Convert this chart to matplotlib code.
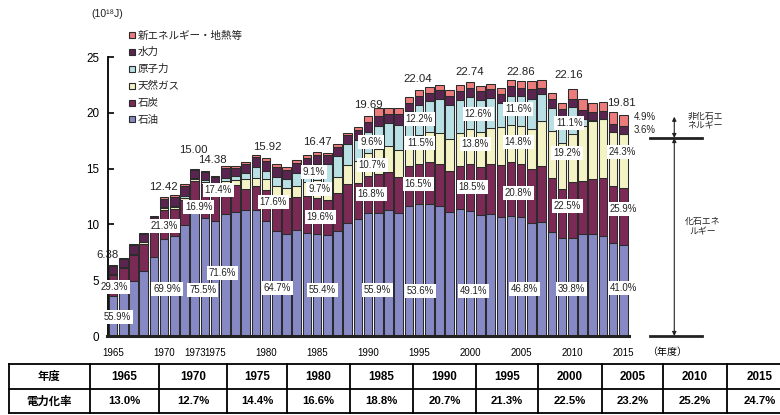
import matplotlib
matplotlib.use('Agg')
import matplotlib.pyplot as plt
from matplotlib.patches import Rectangle
from matplotlib.lines import Line2D
import numpy as np

plt.rcParams['font.family'] = ['Liberation Sans', 'Noto Sans CJK JP', 'DejaVu Sans']

# ---------------- data (10^18 J) ----------------
years = list(range(1965, 2016))
oil = [3.57, 4.10, 4.96, 5.82, 7.10, 8.68, 9.00, 9.95, 11.33, 10.60,
       10.30, 10.90, 11.10, 11.30, 11.30, 10.30, 9.44, 9.14, 9.50, 9.20,
       9.12, 9.05, 9.44, 10.10, 10.45, 11.01, 11.05, 11.30, 10.98, 11.65,
       11.81, 11.85, 11.65, 11.15, 11.40, 11.17, 10.80, 10.95, 10.65, 10.75,
       10.70, 10.15, 10.20, 9.31, 8.81, 8.82, 9.10, 9.10, 8.95, 8.36, 8.12]
coal = [1.87, 1.95, 2.30, 2.45, 2.60, 2.65, 2.35, 2.25, 2.54, 3.00,
        2.36, 2.60, 2.40, 1.90, 2.10, 2.80, 3.05, 3.20, 2.98, 3.30,
        3.23, 3.10, 3.40, 3.50, 3.30, 3.31, 3.45, 3.40, 3.30, 3.55,
        3.64, 3.72, 3.80, 3.65, 3.85, 4.21, 4.30, 4.50, 4.65, 4.85,
        4.75, 4.80, 5.00, 4.87, 4.38, 4.99, 4.78, 4.93, 5.25, 5.07, 5.13]
gas = [0.08, 0.09, 0.10, 0.12, 0.14, 0.15, 0.17, 0.20, 0.22, 0.20,
       0.36, 0.35, 0.45, 0.84, 0.80, 0.97, 0.95, 0.90, 0.96, 1.30,
       1.60, 1.65, 1.45, 1.75, 1.95, 2.11, 2.25, 2.30, 2.40, 2.45,
       2.53, 2.68, 2.78, 2.85, 2.98, 3.14, 3.18, 3.20, 3.40, 3.30,
       3.38, 3.60, 4.05, 4.18, 4.10, 4.25, 4.90, 5.20, 5.20, 4.85, 4.81]
nuclear = [0.00, 0.00, 0.01, 0.01, 0.02, 0.07, 0.10, 0.12, 0.10, 0.15,
           0.22, 0.30, 0.35, 0.54, 0.90, 0.75, 0.85, 0.86, 1.14, 1.30,
           1.50, 1.60, 1.80, 1.85, 1.85, 1.89, 2.05, 2.10, 2.25, 2.50,
           2.69, 2.78, 2.98, 3.05, 2.90, 2.87, 2.87, 2.67, 2.15, 2.60,
           2.65, 2.70, 2.40, 2.09, 2.39, 2.46, 0.70, 0.15, 0.08, 0.00, 0.08]
hydro = [0.75, 0.75, 0.75, 0.74, 0.77, 0.75, 0.85, 0.95, 0.68, 0.72,
         0.99, 0.89, 0.75, 0.85, 0.90, 0.90, 0.88, 0.80, 0.95, 0.85,
         0.80, 0.78, 0.85, 0.80, 0.95, 0.85, 0.95, 0.80, 0.95, 0.75,
         0.85, 0.78, 0.85, 0.85, 0.82, 0.82, 0.80, 0.78, 0.85, 0.88,
         0.78, 0.85, 0.60, 0.75, 0.66, 0.75, 0.80, 0.72, 0.72, 0.75, 0.71]
renew = [0.11, 0.11, 0.12, 0.12, 0.12, 0.12, 0.13, 0.13, 0.13, 0.13,
         0.15, 0.16, 0.15, 0.17, 0.20, 0.20, 0.23, 0.20, 0.24, 0.25,
         0.22, 0.22, 0.26, 0.20, 0.25, 0.52, 0.65, 0.50, 0.55, 0.55,
         0.52, 0.47, 0.44, 0.49, 0.55, 0.53, 0.45, 0.45, 0.50, 0.56,
         0.60, 0.75, 0.69, 0.55, 0.51, 0.89, 0.96, 0.75, 0.74, 1.01, 0.97]

series_names = ['石油', '石炭', '天然ガス', '原子力', '水力', '新エネルギー・地熱等']
series_colors = ['#8689C4', '#7A2A55', '#F3F3C6', '#B9E0E4', '#5A2450', '#EC7B7B']

# total labels: (text, x-year, y-value)
total_labels = [("6.38", 1964.5, 7.26), ("12.42", 1969.9, 13.35), ("15.00", 1972.9, 16.67),
                ("14.38", 1974.7, 15.77), ("15.92", 1980.1, 16.94), ("16.47", 1985.0, 17.38),
                ("19.69", 1990.0, 20.70), ("22.04", 1994.9, 23.03), ("22.74", 2000.0, 23.66),
                ("22.86", 2004.9, 23.66), ("22.16", 2009.7, 23.39), ("19.81", 2014.8, 20.88)]
# share labels: (text, x-year, y-value)
share_labels = [("29.3%", 1965.15, 4.39), ("55.9%", 1965.4, 1.70),
                ("21.3%", 1970.0, 9.86), ("69.9%", 1970.3, 4.21),
                ("16.9%", 1973.4, 11.56), ("17.4%", 1975.3, 13.08),
                ("75.5%", 1973.8, 4.12), ("71.6%", 1975.7, 5.65),
                ("17.6%", 1980.7, 12.00), ("64.7%", 1981.1, 4.30),
                ("9.1%", 1984.7, 14.70), ("9.7%", 1985.2, 13.17),
                ("19.6%", 1985.3, 10.66), ("55.4%", 1985.5, 4.12),
                ("9.6%", 1990.3, 17.38), ("10.7%", 1990.4, 15.32),
                ("16.8%", 1990.3, 12.72), ("55.9%", 1990.9, 4.12),
                ("12.2%", 1995.0, 19.44), ("11.5%", 1995.1, 17.29),
                ("16.5%", 1994.9, 13.62), ("53.6%", 1995.1, 4.03),
                ("12.6%", 2000.8, 19.89), ("13.8%", 2000.5, 17.20),
                ("18.5%", 2000.2, 13.35), ("49.1%", 2000.3, 4.03),
                ("11.6%", 2004.7, 20.34), ("14.8%", 2004.7, 17.38),
                ("20.8%", 2004.7, 12.81), ("46.8%", 2005.3, 4.21),
                ("11.1%", 2009.7, 19.09), ("19.2%", 2009.5, 16.40),
                ("22.5%", 2009.5, 11.65), ("39.8%", 2009.9, 4.21),
                ("24.3%", 2014.9, 16.49), ("25.9%", 2015.0, 11.38),
                ("41.0%", 2015.0, 4.30)]
side_labels = [("4.9%", 2016.0, 19.60), ("3.6%", 2016.0, 18.46)]

xtick_years = [1965, 1970, 1973, 1975, 1980, 1985, 1990, 1995, 2000, 2005, 2010, 2015]
table_years = ['1965', '1970', '1975', '1980', '1985', '1990', '1995', '2000', '2005', '2010', '2015']
electrification = ['13.0%', '12.7%', '14.4%', '16.6%', '18.8%', '20.7%', '21.3%', '22.5%',
                   '23.2%', '25.2%', '24.7%']

# ---------------- figure ----------------
W, H = 780, 415
fig = plt.figure(figsize=(W / 100, H / 100), dpi=100)


def fx(px):
    return px / W


def fy(py):
    return 1 - py / H


ax = fig.add_axes([fx(107.5), fy(336), (710 - 107.5) / W, (336 - 57) / H])

bottom = np.zeros(len(years))
for vals, c in zip([oil, coal, gas, nuclear, hydro, renew], series_colors):
    v = np.array(vals)
    ax.bar(years, v, width=0.84, bottom=bottom, color=c, edgecolor='#2b2b2b',
           linewidth=0.75, zorder=2)
    bottom += v

ax.set_xlim(1964.46, 2023.5)
ax.set_ylim(0, 25)
for s in ['top', 'right']:
    ax.spines[s].set_visible(False)
ax.spines['left'].set_linewidth(1.3)
ax.spines['left'].set_bounds(0, 25)
ax.spines['bottom'].set_linewidth(2.2)
ax.spines['bottom'].set_color('#222222')
ax.spines['bottom'].set_bounds(1964.46, 2015.55)
ax.spines['bottom'].set_zorder(3)

ax.set_yticks([0, 5, 10, 15, 20, 25])
ax.tick_params(axis='y', direction='in', length=4, width=1.2, labelsize=8.4, pad=6)
ax.set_xticks(xtick_years)
ax.set_xticklabels([str(y) for y in xtick_years])
ax.tick_params(axis='x', length=0, labelsize=7.0, pad=8.5)
ax.text(2019.3, -1.39, '（年度）', fontsize=7.2, ha='center', va='center',
        family=['Noto Sans CJK JP', 'DejaVu Sans'])

for t, x, y in total_labels:
    ax.text(x, y, t, ha='center', va='center', fontsize=8.2, zorder=6, color='#222222')
for t, x, y in share_labels:
    ax.text(x, y, t, ha='center', va='center', fontsize=6.9, zorder=6, color='#222222',
            bbox=dict(boxstyle='square,pad=0.2', fc='white', ec='none'))
for t, x, y in side_labels:
    ax.text(x, y, t, ha='left', va='center', fontsize=6.9, zorder=6, color='#222222')

# right-side fossil / non-fossil annotation
fossil_top = 17.74
nonfossil_top = 19.65
xa = 2020.0
ax.plot([2017.65, 2022.75], [fossil_top, fossil_top], color='#222222', lw=2, clip_on=False)
ax.plot([2017.65, 2022.75], [0, 0], color='#222222', lw=2, clip_on=False)
ax.annotate('', xy=(xa, nonfossil_top), xytext=(xa, fossil_top),
            arrowprops=dict(arrowstyle='<|-|>', lw=0.8, color='#222222',
                            mutation_scale=6, shrinkA=0, shrinkB=0), annotation_clip=False)
ax.annotate('', xy=(xa, fossil_top), xytext=(xa, 0),
            arrowprops=dict(arrowstyle='<|-|>', lw=0.8, color='#222222',
                            mutation_scale=6, shrinkA=0, shrinkB=0), annotation_clip=False)
ax.text(2023.0, 19.25, '非化石エ\nネルギー', fontsize=6.4, ha='center', va='center',
        linespacing=1.2, family=['Noto Sans CJK JP', 'DejaVu Sans'], color='#222222')
ax.text(2022.8, 9.77, '化石エネ\nルギー', fontsize=6.4, ha='center', va='center',
        linespacing=1.2, family=['Noto Sans CJK JP', 'DejaVu Sans'], color='#222222')

# unit
fig.text(fx(107), fy(14), '(10¹⁸J)', fontsize=7.6, ha='center', va='center', color='#222222')

# legend (top to bottom)
leg_order = [5, 4, 3, 2, 1, 0]
for k, idx in enumerate(leg_order):
    yc = 35.5 + 16.8 * k
    fig.add_artist(Rectangle((fx(129), fy(yc + 3)), 6 / W, 6 / H, transform=fig.transFigure,
                             facecolor=series_colors[idx], edgecolor='#2b2b2b', lw=0.8))
    fig.text(fx(138), fy(yc), series_names[idx], fontsize=7.6, ha='left', va='center',
             family=['Noto Sans CJK JP', 'DejaVu Sans'], color='#222222')

# table
col_edges = [9, 90, 159, 227, 287, 350, 413, 476, 538, 602, 663, 727, 792]
row_edges = [364, 389, 413]
for yv in row_edges:
    fig.add_artist(Line2D([fx(col_edges[0]), fx(col_edges[-1])], [fy(yv), fy(yv)],
                          transform=fig.transFigure, color='black', lw=1.3))
for xv in col_edges:
    fig.add_artist(Line2D([fx(xv), fx(xv)], [fy(row_edges[0]), fy(row_edges[-1])],
                          transform=fig.transFigure, color='black', lw=1.3))
cjk = ['Noto Sans CJK JP', 'DejaVu Sans']
fig.text(fx((col_edges[0] + col_edges[1]) / 2), fy(376.5), '年度', fontsize=8.2,
         weight='bold', ha='center', va='center', family=cjk)
fig.text(fx((col_edges[0] + col_edges[1]) / 2), fy(401), '電力化率', fontsize=8.2,
         weight='bold', ha='center', va='center', family=cjk)
for i, (yl, ev) in enumerate(zip(table_years, electrification)):
    xc = (col_edges[i + 1] + col_edges[i + 2]) / 2
    fig.text(fx(xc), fy(376.5), yl, fontsize=8.4, weight='bold', ha='center', va='center')
    fig.text(fx(xc), fy(401), ev, fontsize=8.2, weight='bold', ha='center', va='center')

fig.savefig('out.png', dpi=100)
